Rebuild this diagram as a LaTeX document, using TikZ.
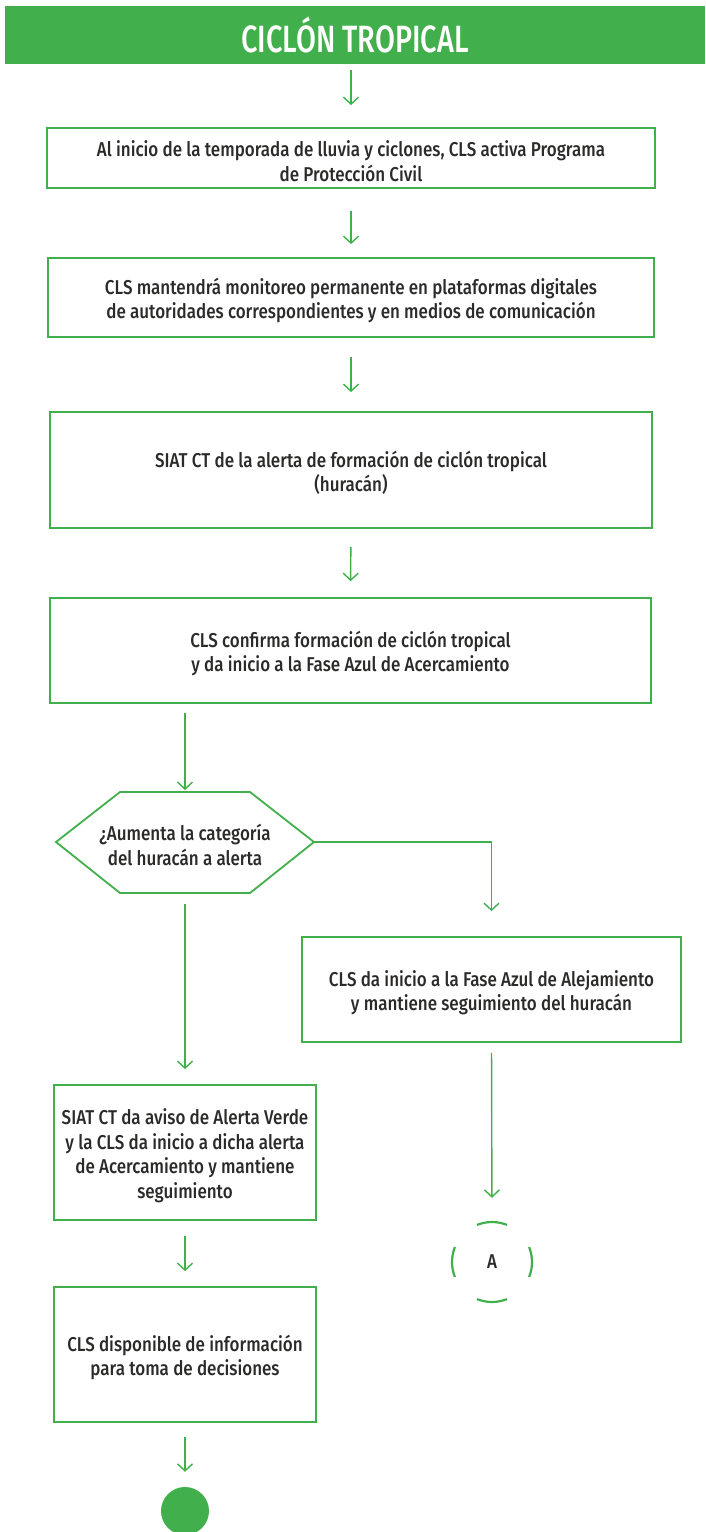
\documentclass[tikz,border=0pt]{standalone}
\usepackage{fontspec}
\setmainfont{Fira Sans}[FakeStretch=0.85,BoldFont={Fira Sans Medium}]
\newfontfamily\titlefont{Fira Sans Medium}[FakeStretch=0.76]
\usetikzlibrary{arrows.meta}
\definecolor{cg}{HTML}{41AF4B}
\definecolor{tx}{HTML}{2B2A29}
\newcommand\topstrut{\rule{0pt}{22pt}}
\begin{document}
\begin{tikzpicture}[x=1pt,y=-1pt,
  box/.style={draw=cg,line width=1.8pt,align=center,text=tx,font=\bfseries\fontsize{20}{24.5}\selectfont,inner sep=0pt},
  lbl/.style={align=center,text=tx,font=\bfseries\fontsize{20}{24.5}\selectfont,inner sep=0pt},
  arr/.style={draw=cg,line width=1.4pt,-{Straight Barb[length=7pt,width=15pt,line width=1.4pt]}},
  edge/.style={draw=cg,line width=1.8pt,line join=miter}]
\useasboundingbox (0,0) rectangle (705,1532);

\node[fill=cg,minimum width=700pt,minimum height=58pt,inner sep=0pt,text=white,
  font=\titlefont\fontsize{38}{38}\selectfont] (head) at (355,35) {CICLÓN TROPICAL};

\node[box,minimum width=608pt,minimum height=60pt] (b1) at (351,158)
  {\topstrut Al inicio de la temporada de lluvia y ciclones, CLS activa Programa\\de Protección Civil};
\node[box,minimum width=606pt,minimum height=79pt] (b2) at (351,297.5)
  {\topstrut CLS mantendrá monitoreo permanente en plataformas digitales\\de autoridades correspondientes y en medios de comunicación};
\node[box,minimum width=602pt,minimum height=116pt] (b3) at (351,470)
  {\topstrut SIAT CT de la alerta de formación de ciclón tropical\\(huracán)};
\node[box,minimum width=601pt,minimum height=105pt] (b4) at (350.5,650.5)
  {\topstrut CLS confirma formación de ciclón tropical\\y da inicio a la Fase Azul de Acercamiento};

% hexagon decision
\coordinate (hexL) at (56,842);
\coordinate (hexR) at (314,842);
\coordinate (hexT) at (185,792);
\coordinate (hexB) at (185,893);
\draw[edge] (hexL) -- (120,792) -- (250,792) -- (hexR) -- (250,893) -- (120,893) -- cycle;
\node[lbl] (hex) at (185,845) {¿Aumenta la categoría\\del huracán a alerta};

\node[box,minimum width=379pt,minimum height=105pt] (b5) at (491.5,989.5)
  {\topstrut CLS da inicio a la Fase Azul de Alejamiento\\y mantiene seguimiento del huracán};
\node[box,minimum width=262pt,minimum height=135pt] (b6) at (185,1152.5)
  {\topstrut SIAT CT da aviso de Alerta Verde\\y la CLS da inicio a dicha alerta\\de Acercamiento y mantiene\\seguimiento};
\node[box,minimum width=262pt,minimum height=135pt] (b7) at (185,1354.5)
  {\topstrut CLS disponible de información\\para toma de decisiones};

\node[circle,minimum size=80pt,inner sep=0pt,text=tx,font=\bfseries\fontsize{20}{20}\selectfont] (A) at (492,1262) {A};
\foreach \a in {0,90,180,270}
  \draw[cg,line width=2.2pt] ([shift={(\a-22:40)}]A.center) arc[start angle=\a-22,end angle=\a+22,radius=40];

\node[circle,fill=cg,minimum size=48pt,inner sep=0pt] (end) at (185,1511) {};

% connectors
\draw[arr,shorten <=6pt,shorten >=22pt] (head.south -| b1.north) -- (b1.north);
\draw[arr,shorten <=22pt,shorten >=13pt] (b1.south) -- (b2.north);
\draw[arr,shorten <=19pt,shorten >=19pt] (b2.south) -- (b3.north);
\draw[arr,shorten <=18pt,shorten >=16pt] (b3.south) -- (b4.north);
\draw[arr,shorten <=9pt,shorten >=2pt] (b4.south -| hexT) -- (hexT);
\draw[arr,shorten >=25pt] (hexR) -| (b5.north);
\draw[arr,shorten <=11pt,shorten >=15pt] (hexB) -- (b6.north);
\draw[arr,shorten <=10pt,shorten >=24pt] (b5.south) -- (A.north);
\draw[arr,shorten <=15pt,shorten >=15pt] (b6.south) -- (b7.north);
\draw[arr,shorten <=14pt,shorten >=15pt] (b7.south) -- (end.north);
\end{tikzpicture}
\end{document}
